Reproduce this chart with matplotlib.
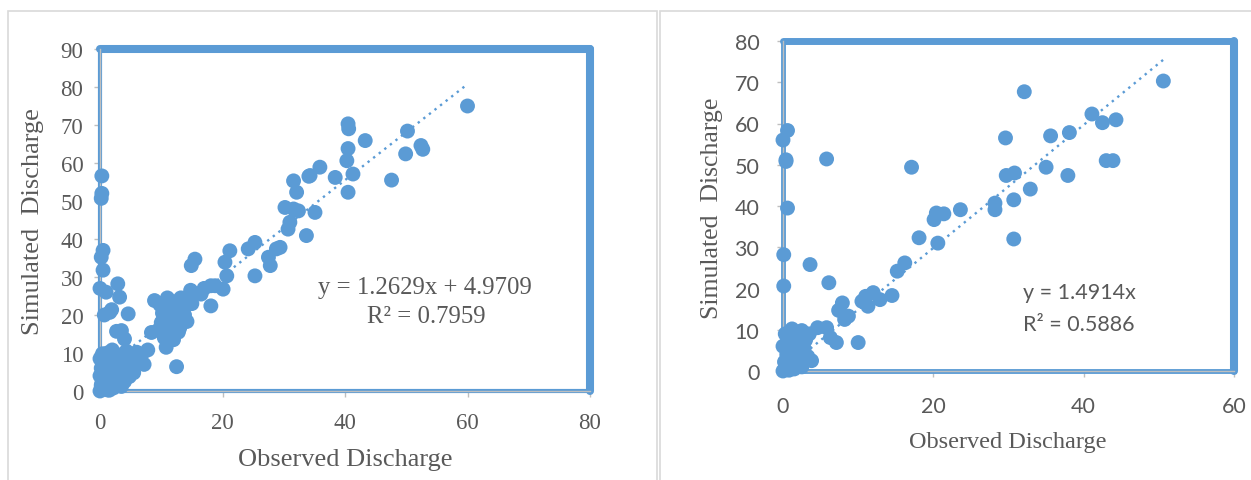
import matplotlib

matplotlib.use("Agg")

import matplotlib.pyplot as plt
import numpy as np
from matplotlib.lines import Line2D

W, H = 1251, 481

# ---- left panel data (observed, simulated) ----
obs_left = [
    # dense block near the origin
    0, 0.3, 0.8, 1.2, 0.5, 0, 0.2, 0, 0.4, 1, 1.5, 1.8, 2.2, 2.5, 2.8, 3, 3.3, 3.8, 4, 4.3,
    4.6, 5, 5.2, 5.5, 6, 6.2, 6.8, 7.2, 7.8, 2, 1.2, 0.6, 1.6, 3.5, 2.8, 1, 0.3, 4.8, 3.2, 5.8,
    0.2, 1.5,
    # points along the y axis
    0.3, 0.3, 0.2, 0.5, 0.2, 0.5, 0, 2.9, 1, 3.2, 1.9, 0.7, 1.6, 4.6, 3.5, 4, 2.7,
    # middle cluster
    8.9, 8.4, 10.8, 12.5, 9.5, 10, 10.2, 10.8, 11, 11.3, 11.5, 11.8, 12, 12.2, 12.5, 12.8,
    13, 13.2, 13.5, 13.8, 14, 14.2, 14.5, 15, 12, 13, 10.5, 11, 14.8, 9.8,
    15.5, 14.9, 18.1, 18.1, 16.5, 17,
    # upper part
    18.8, 20.1, 20.7, 20.4, 21.2, 25.3, 24.2, 25.3, 27.8, 27.5, 28.8, 29.4, 33.7, 30.7, 31,
    30.2, 31.6, 32.4, 35.1, 32.1, 31.6, 34.3, 35.9, 38.4, 40.5, 41.3, 40.3, 40.5, 40.6,
    50.2, 43.3, 40.5, 52.4, 52.7, 49.9, 47.6, 34.1, 60,
]
sim_left = [
    0, 0.5, 1.2, 0.3, 2.5, 4, 6, 8.5, 9.8, 7.5, 5, 2.2, 0.8, 3.5, 6.5, 9.5, 4.8, 7.8, 2.5, 10.5,
    5.5, 8.5, 6.8, 4.8, 10.2, 8, 9.5, 7, 10.8, 10.8, 10, 8, 8.8, 1.2, 1.8, 3.8, 2, 3.8, 6.2, 9.2,
    1.5, 0.2,
    56.6, 52, 50.7, 37, 35.2, 31.8, 27, 28.2, 26, 24.7, 21.4, 20, 20.7, 20.3, 15.9, 13.7, 15.7,
    23.8, 15.4, 11.5, 6.4, 16, 18, 20.5, 22, 17, 19.5, 14.8, 21, 23.5, 17.5, 19, 15.5,
    21.5, 24.5, 18, 20, 22.5, 18.3, 25, 23, 13.5, 16.5, 14, 24.5, 26.5, 22.7,
    34.7, 33, 27.7, 22.4, 25.5, 27,
    27.7, 26.8, 30.3, 33.9, 36.9, 30.3, 37.4, 39.1, 33, 35.2, 37.4, 37.8, 40.9, 42.6, 44.4,
    48.3, 47.9, 47.4, 47, 52.3, 55.3, 56.7, 58.9, 56.2, 52.3, 57.1, 60.6, 70.3, 69,
    68.4, 65.9, 63.8, 64.6, 63.6, 62.4, 55.5, 56.5, 75,
]

# ---- right panel data (observed, simulated) ----
obs_right = [
    # dense block near the origin
    0, 0.3, 0.8, 0.2, 1, 1.5, 0.5, 1.2, 0, 0.6, 1.5, 2, 2.2, 1.8, 0.9, 2.5, 3, 2.8, 3.3, 1.2,
    3.5, 2.3, 0.3, 3.8, 2.5, 0.7, 1.7,
    # points along the y axis
    0, 0.6, 0.4, 0.4, 0.6, 0.1, 0.1,
    # rest
    5.8, 4.6, 6.3, 7.1, 10, 7.4, 7.9, 8.7, 8.2, 10.5, 11, 11.3, 12, 12.9, 14.5, 15.2, 16.2,
    6.1, 3.6, 5.8, 17.1, 18.1, 20.6, 20.1, 20.4, 21.4, 23.6, 28.2, 28.2, 29.6, 29.7, 30.8,
    30.7, 30.7, 32.1, 32.9, 35, 35.6, 37.9, 38.1, 41.1, 42.5, 44.3, 43, 43.9, 50.6,
]
sim_right = [
    0, 0.8, 0.2, 2.2, 1.5, 0.5, 4, 3.2, 6, 7.5, 6, 4.5, 2, 8.5, 9.5, 9.8, 7.5, 5.5, 3.5, 10.2,
    9, 7, 9, 2.5, 1, 5.5, 1.8,
    56, 58.3, 51.2, 50.8, 39.5, 28.2, 20.6,
    10.5, 10.5, 8.1, 6.9, 6.9, 14.7, 16.5, 13.3, 12.5, 16.9, 18.1, 15.7, 19, 17.3, 18.3, 24.2, 26.2,
    21.4, 25.8, 51.4, 49.4, 32.3, 31, 36.7, 38.3, 38.1, 39.1, 40.7, 39.1, 56.5, 47.4, 48,
    41.5, 32, 67.7, 44.1, 49.4, 57, 47.4, 57.8, 62.3, 60.2, 60.9, 51, 51, 70.3,
]

left_fit = (1.2629, 4.9709)
right_fit = (1.4914, 0.0)
left_eq = ["y = 1.2629x + 4.9709", "R² = 0.7959"]
right_eq = ["y = 1.4914x", "R² = 0.5886"]

BLUE = "#5b9bd5"
TEXT = "#595959"
AXIS = "#bfbfbf"
SERIF = ["Liberation Serif", "DejaVu Serif"]
SANS = ["Lato", "DejaVu Sans"]


def px_rect(x0, y_top, x1, y_bot):
    return [x0 / W, 1 - y_bot / H, (x1 - x0) / W, (y_bot - y_top) / H]


def draw_panel(fig, rect, obs, sim, fit, xmax, ymax, xstep, tick_font, tick_size, pads, frame_w):
    ax = fig.add_axes(rect)
    ax.set_xlim(0, xmax)
    ax.set_ylim(0, ymax)
    ax.set_xticks(np.arange(0, xmax + 1, xstep))
    ax.set_yticks(np.arange(0, ymax + 1, 10))
    for side in ("top", "right"):
        ax.spines[side].set_visible(False)
    for side in ("left", "bottom"):
        ax.spines[side].set_color(AXIS)
        ax.spines[side].set_linewidth(1.0)
        ax.spines[side].set_zorder(3.5)
    ax.tick_params(direction="out", length=4, width=1, color=AXIS, labelcolor=TEXT,
                   labelsize=tick_size)
    ax.tick_params(axis="x", pad=pads[0])
    ax.tick_params(axis="y", pad=pads[1])
    for lab in ax.get_xticklabels() + ax.get_yticklabels():
        lab.set_family(tick_font)

    # thick blue plot-area outline
    top_w, right_w, left_w, bot_w = frame_w
    tr = ax.transAxes
    ax.add_line(Line2D([0, 1], [1, 1], transform=tr, color=BLUE, lw=top_w, clip_on=False,
                       solid_capstyle="round", zorder=3))
    ax.add_line(Line2D([1, 1], [0, 1], transform=tr, color=BLUE, lw=right_w, clip_on=False,
                       solid_capstyle="round", zorder=3))
    ax.add_line(Line2D([0, 0], [0, 1], transform=tr, color=BLUE, lw=left_w, clip_on=False, zorder=3))
    ax.add_line(Line2D([0, 1], [0, 0], transform=tr, color=BLUE, lw=bot_w, clip_on=False, zorder=3))

    # linear trendline
    xs = np.array([0, max(obs)])
    ax.plot(xs, fit[0] * xs + fit[1], color=BLUE, lw=1.7, linestyle=(0, (1, 2)), zorder=2)
    ax.scatter(obs, sim, s=115, color=BLUE, edgecolors="none", zorder=4, clip_on=False)
    return ax


fig = plt.figure(figsize=(W / 100, H / 100), dpi=100)

# light grey chart-area borders
for x0, x1 in ((8, 657), (660, 1262)):
    fig.add_artist(plt.Rectangle((x0 / W, -0.05), (x1 - x0) / W, 1.05 - 12 / H,
                                 transform=fig.transFigure, fill=False,
                                 edgecolor="#d9d9d9", lw=1.2))

axl = draw_panel(fig, px_rect(100, 50, 590, 392), obs_left, sim_left, left_fit,
                 80, 90, 20, SERIF, 16.5, (11, 8), (5.8, 5.8, 3, 3))
axr = draw_panel(fig, px_rect(783, 42, 1234, 372), obs_right, sim_right, right_fit,
                 60, 80, 20, SANS, 15.5, (14, 13), (5, 5.8, 3.5, 3.5))

fig.text(345 / W, 1 - 460 / H, "Observed Discharge", family=SERIF, size=19, color=TEXT,
         ha="center", va="center")
fig.text(33 / W, 1 - 222 / H, "Simulated  Discharge", family=SERIF, size=19, color=TEXT,
         ha="center", va="center", rotation=90)
fig.text(1008 / W, 1 - 443 / H, "Observed Discharge", family=SERIF, size=17.5, color=TEXT,
         ha="center", va="center")
fig.text(712 / W, 1 - 208 / H, "Simulated  Discharge", family=SERIF, size=18.5, color=TEXT,
         ha="center", va="center", rotation=90)

fig.text(425 / W, 1 - 288 / H, left_eq[0], family=SERIF, size=17.8, color=TEXT,
         ha="center", va="center")
fig.text(426 / W, 1 - 317 / H, left_eq[1], family=SERIF, size=17.8, color=TEXT,
         ha="center", va="center")
fig.text(1023 / W, 1 - 293 / H, right_eq[0], family=SANS, size=15.5, color=TEXT,
         ha="left", va="center")
fig.text(1023 / W, 1 - 325 / H, right_eq[1], family=SANS, size=15.5, color=TEXT,
         ha="left", va="center")

fig.savefig("out.png", dpi=100)
plt.close(fig)
